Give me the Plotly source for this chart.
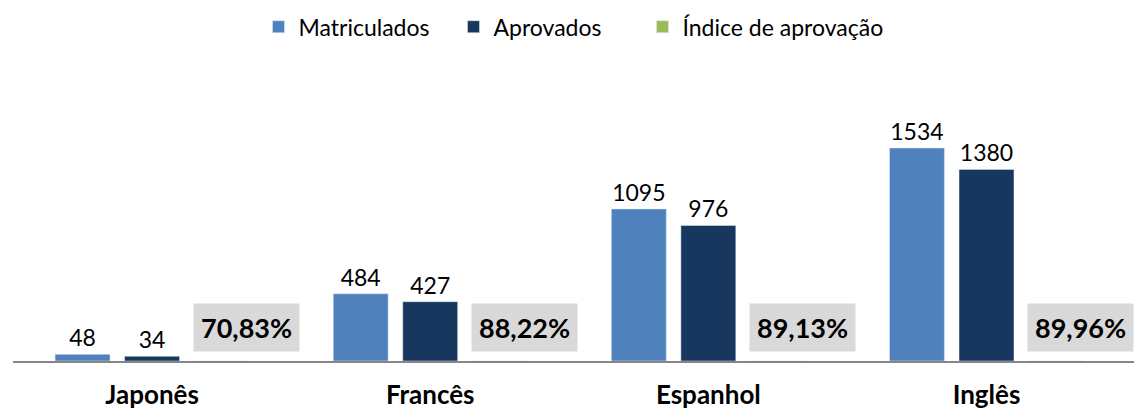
import plotly.graph_objects as go

cursos = ["Japonês", "Francês", "Espanhol", "Inglês"]
matriculados = [48, 484, 1095, 1534]
aprovados = [34, 427, 976, 1380]
indice = [70.83, 88.22, 89.13, 89.96]

FONT = "Lato, Carlito, Calibri, sans-serif"

fig = go.Figure()
fig.add_trace(go.Bar(
    name="Matriculados", x=cursos, y=matriculados,
    marker_color="#4F81BD", legendwidth=150,
    text=matriculados, textposition="outside",
    textfont=dict(size=23, color="#000000", family=FONT),
    cliponaxis=False,
))
fig.add_trace(go.Bar(
    name="Aprovados", x=cursos, y=aprovados,
    marker_color="#17375E", legendwidth=144,
    text=aprovados, textposition="outside",
    textfont=dict(size=23, color="#000000", family=FONT),
    cliponaxis=False,
))
# índice em fração: barras praticamente invisíveis na escala dos alunos
fig.add_trace(go.Bar(
    name="Índice de aprovação", x=cursos, y=[v / 100 for v in indice],
    marker_color="#9BBB59",
))

for c, v in zip(cursos, indice):
    fig.add_annotation(
        x=c, y=0, xref="x", yref="y",
        text="<b>" + f"{v:.2f}".replace(".", ",") + "%</b>",
        showarrow=False, xshift=94, yshift=9, yanchor="bottom",
        bgcolor="#D9D9D9", borderpad=7,
        font=dict(size=27, color="#000000", family=FONT),
    )

fig.update_layout(
    width=1142, height=417,
    barmode="group", bargap=0.25, bargroupgap=0.21,
    plot_bgcolor="white", paper_bgcolor="white",
    margin=dict(l=5, r=16, t=110, b=64, autoexpand=False),
    font=dict(family=FONT, color="#000000"),
    showlegend=True,
    legend=dict(orientation="h", x=0.5, xanchor="center",
                yref="container", y=0.955, yanchor="middle",
                font=dict(size=23, family=FONT), traceorder="normal",
                itemwidth=30),
    xaxis=dict(showline=True, linecolor="#868686", linewidth=2, ticks="",
               ticklabelstandoff=10, automargin=False,
               tickfont=dict(size=26, family=FONT, weight="bold"), showgrid=False),
    yaxis=dict(range=[0, 1750], visible=False, showgrid=False, zeroline=False,
               automargin=False),
)

fig.write_html("out.html")
